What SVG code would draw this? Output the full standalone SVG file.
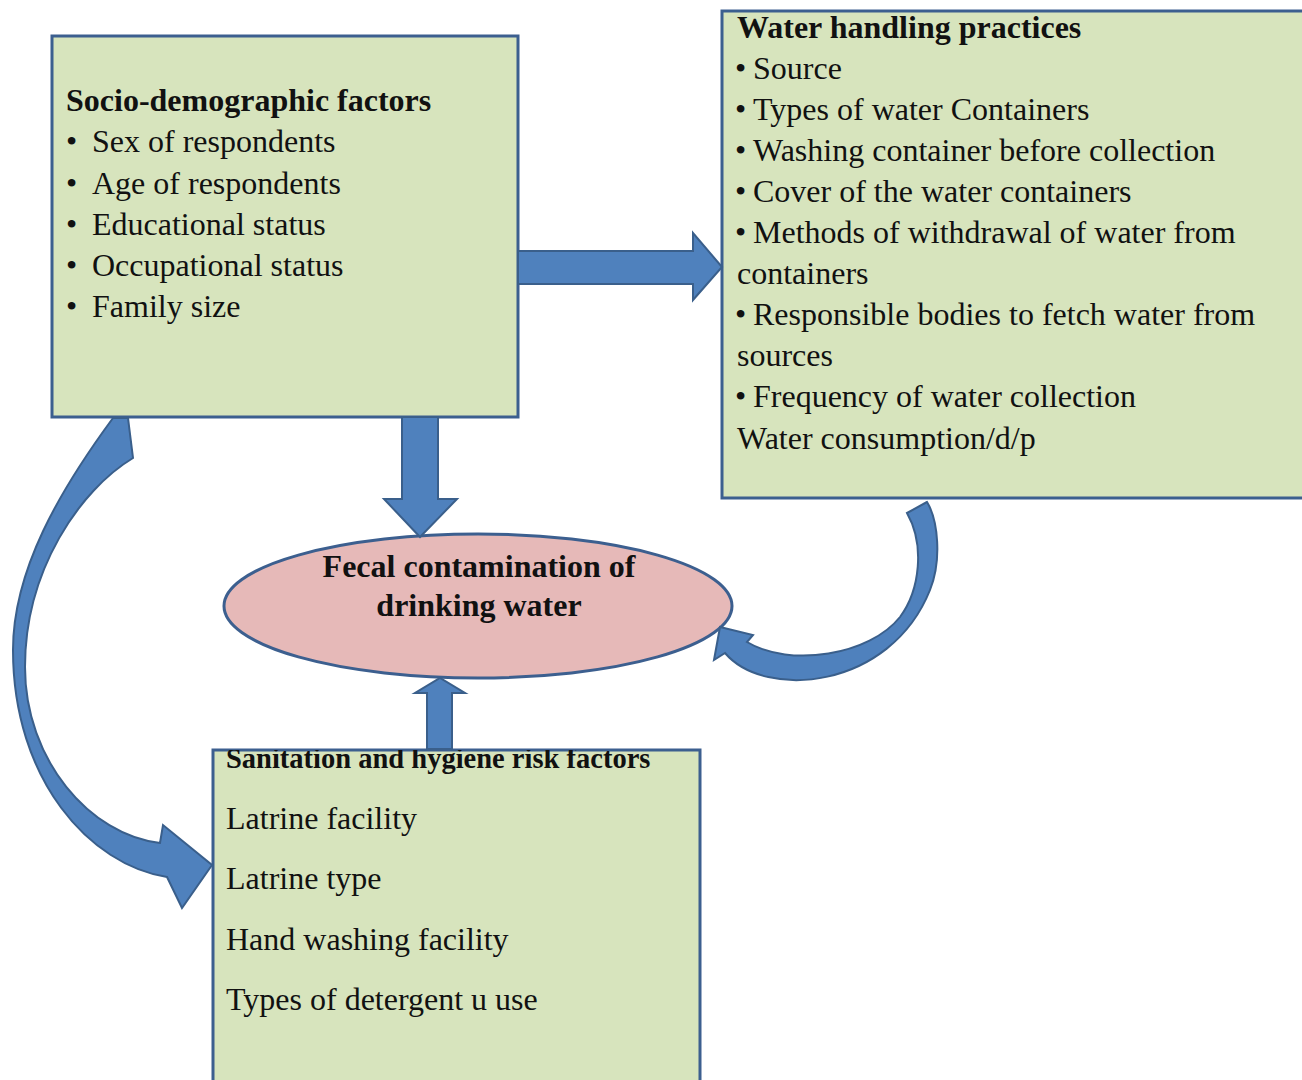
<svg xmlns="http://www.w3.org/2000/svg" width="1302" height="1080" viewBox="0 0 1302 1080">
<style>
.box{fill:#d7e4bd;stroke:#3c5f8f;stroke-width:3}
.ell{fill:#e6b9b8;stroke:#3c5f8f;stroke-width:3}
.arr{fill:#4f81bd;stroke:#3a5f8b;stroke-width:2;stroke-linejoin:miter}
.t{font-family:"Liberation Serif","Times New Roman",serif;font-size:32px;fill:#111}
.b{font-weight:bold}
</style>
<defs>
<clipPath id="c3"><rect x="213" y="750" width="487" height="340"/></clipPath>
</defs>
<rect width="1302" height="1080" fill="#ffffff"/>

<g id="box-socio">
<rect class="box" x="52" y="36" width="466" height="381"/>
<text class="t b" x="66" y="111">Socio-demographic factors</text>
<text class="t" x="66" y="152">•</text><text class="t" x="92" y="152">Sex of respondents</text>
<text class="t" x="66" y="194">•</text><text class="t" x="92" y="194">Age of respondents</text>
<text class="t" x="66" y="235">•</text><text class="t" x="92" y="235">Educational status</text>
<text class="t" x="66" y="276">•</text><text class="t" x="92" y="276">Occupational status</text>
<text class="t" x="66" y="317">•</text><text class="t" x="92" y="317">Family size</text>
</g>

<g id="box-water">
<rect class="box" x="722" y="11" width="600" height="487"/>
<text class="t b" x="737" y="38">Water handling practices</text>
<text class="t" x="735" y="79">•</text><text class="t" x="753" y="79">Source</text>
<text class="t" x="735" y="120">•</text><text class="t" x="753" y="120">Types of water Containers</text>
<text class="t" x="735" y="161">•</text><text class="t" x="753" y="161">Washing container before collection</text>
<text class="t" x="735" y="202">•</text><text class="t" x="753" y="202">Cover of the water containers</text>
<text class="t" x="735" y="243">•</text><text class="t" x="753" y="243">Methods of withdrawal of water from</text>
<text class="t" x="737" y="284">containers</text>
<text class="t" x="735" y="325">•</text><text class="t" x="753" y="325">Responsible bodies to fetch water from</text>
<text class="t" x="737" y="366">sources</text>
<text class="t" x="735" y="407">•</text><text class="t" x="753" y="407">Frequency of water collection</text>
<text class="t" x="737" y="449">Water consumption/d/p</text>
</g>

<g id="node-fecal">
<ellipse class="ell" cx="478" cy="606" rx="254" ry="72"/>
<text class="t b" x="479" y="577" text-anchor="middle">Fecal contamination of</text>
<text class="t b" x="479" y="616" text-anchor="middle">drinking water</text>
</g>

<g id="box-sanitation">
<rect class="box" x="213" y="750" width="487" height="340"/>
<g clip-path="url(#c3)">
<text class="t b" x="226" y="768" style="font-size:28.5px">Sanitation and hygiene risk factors</text>
</g>
<text class="t" x="226" y="829">Latrine facility</text>
<text class="t" x="226" y="889">Latrine type</text>
<text class="t" x="226" y="950">Hand washing facility</text>
<text class="t" x="226" y="1010">Types of detergent u use</text>
</g>

<g id="connectors">
<path class="arr" d="M518,251 L693,251 L693,233 L722,267 L693,300 L693,284 L518,284 Z"/>
<path class="arr" d="M402,417 L438,417 L438,499 L457,499 L420,537 L384,499 L402,499 Z"/>
<path class="arr" d="M427,749 L427,693 L415,693 L440,678 L465,693 L452,693 L452,749 Z"/>
<path class="arr" d="M128,418 L133,458 C80,490 25,570 25,667 C25,760 90,835 160,843 L163,825 L212,865 L182,908 L167,877 C90,865 13,780 13,650 C13,570 60,490 113,418 Z"/>
<path class="arr" d="M927,502 L907,513 C925,545 920,590 900,617 C870,655 790,668 747,642 L753,635 L720,627 L714,660 L725,653 C765,700 890,690 930,590 C942,560 938,520 927,502 Z"/>
</g>
</svg>
